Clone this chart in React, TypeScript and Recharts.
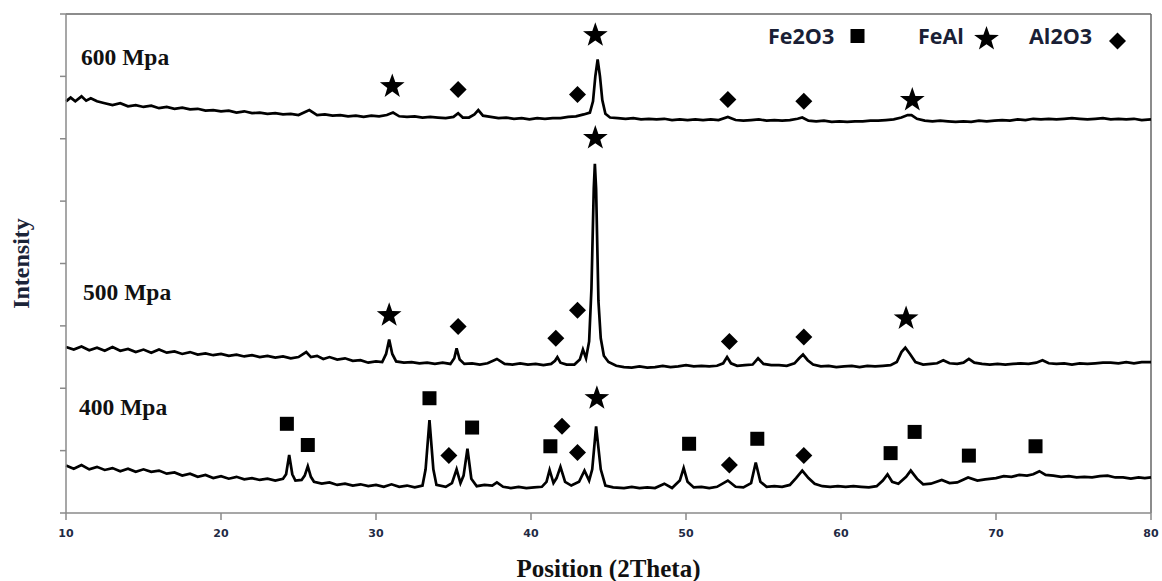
import React from 'react';
import { ComposedChart, Line, Scatter, XAxis, YAxis, ReferenceLine } from 'recharts';

type Pt = [number, number];

const xTicks = [10, 20, 30, 40, 50, 60, 70, 80];
const yTicks = [0, 1, 2, 3, 4, 5, 6, 7, 8];

// 2theta vs intensity (arb. units, stacked)
const pattern400: Pt[] = [
  [10, 0.76], [10.5, 0.71], [11, 0.77], [11.5, 0.7], [12, 0.74], [12.5, 0.69], [13, 0.72], [13.5, 0.67],
  [14, 0.71], [14.5, 0.66], [15, 0.7], [15.5, 0.66], [16, 0.68], [16.5, 0.63], [17, 0.65], [17.5, 0.6],
  [18, 0.63], [18.5, 0.58], [19, 0.61], [19.5, 0.56], [20, 0.59], [20.5, 0.55], [21, 0.58], [21.5, 0.54],
  [22, 0.56], [22.5, 0.53], [23, 0.55], [23.5, 0.52], [24, 0.55], [24.2, 0.62], [24.4, 0.93], [24.6, 0.62],
  [24.8, 0.52], [25.2, 0.53], [25.4, 0.6], [25.6, 0.75], [25.8, 0.58], [26, 0.5], [26.5, 0.47], [27, 0.49],
  [27.5, 0.45], [28, 0.47], [28.5, 0.44], [29, 0.46], [29.5, 0.43], [30, 0.45], [30.5, 0.42], [31, 0.46],
  [31.5, 0.42], [32, 0.44], [32.5, 0.41], [33, 0.44], [33.2, 0.7], [33.45, 1.49], [33.7, 0.7], [33.9, 0.45],
  [34.5, 0.42], [34.9, 0.48], [35.2, 0.7], [35.45, 0.48], [35.65, 0.6], [35.9, 1.03], [36.15, 0.55], [36.5, 0.43],
  [37, 0.45], [37.5, 0.44], [37.8, 0.49], [38.2, 0.42], [38.7, 0.4], [39.2, 0.42], [39.7, 0.4], [40.2, 0.41],
  [40.7, 0.42], [41, 0.5], [41.2, 0.69], [41.45, 0.48], [41.65, 0.56], [41.9, 0.74], [42.2, 0.5], [42.6, 0.44],
  [43.1, 0.5], [43.45, 0.68], [43.75, 0.52], [43.95, 0.7], [44.2, 1.39], [44.5, 0.7], [44.8, 0.44], [45.3, 0.41],
  [46, 0.4], [46.5, 0.42], [47, 0.4], [47.5, 0.41], [48, 0.4], [48.6, 0.47], [49.1, 0.4], [49.6, 0.52],
  [49.85, 0.72], [50.1, 0.5], [50.5, 0.41], [51, 0.42], [51.5, 0.4], [52, 0.42], [52.7, 0.52], [53.2, 0.42],
  [53.7, 0.41], [54.2, 0.48], [54.5, 0.81], [54.8, 0.5], [55.2, 0.42], [55.7, 0.43], [56.2, 0.42], [56.7, 0.45],
  [57.1, 0.56], [57.5, 0.68], [57.9, 0.56], [58.3, 0.47], [58.8, 0.43], [59.3, 0.42], [59.8, 0.43], [60.3, 0.42],
  [60.8, 0.43], [61.3, 0.42], [61.8, 0.41], [62.3, 0.43], [62.7, 0.52], [63, 0.62], [63.3, 0.5], [63.7, 0.47],
  [64.2, 0.58], [64.5, 0.68], [64.9, 0.55], [65.3, 0.46], [65.8, 0.47], [66.5, 0.53], [67, 0.48], [67.5, 0.49],
  [68.2, 0.57], [68.8, 0.52], [69.3, 0.54], [70, 0.56], [70.5, 0.59], [71, 0.58], [71.5, 0.61], [72, 0.6],
  [72.4, 0.62], [72.8, 0.67], [73.2, 0.61], [73.7, 0.6], [74.2, 0.58], [74.7, 0.59], [75.2, 0.57], [75.7, 0.58],
  [76.2, 0.57], [76.7, 0.59], [77.2, 0.6], [77.7, 0.57], [78.2, 0.57], [78.7, 0.55], [79.2, 0.57], [79.6, 0.56],
  [80, 0.57],
];

const pattern500: Pt[] = [
  [10, 2.66], [10.5, 2.62], [11, 2.67], [11.5, 2.61], [12, 2.65], [12.5, 2.6], [13, 2.66], [13.5, 2.6],
  [14, 2.63], [14.5, 2.58], [15, 2.62], [15.5, 2.57], [16, 2.62], [16.5, 2.57], [17, 2.59], [17.5, 2.55],
  [18, 2.58], [18.5, 2.54], [19, 2.56], [19.5, 2.53], [20, 2.55], [20.5, 2.52], [21, 2.54], [21.5, 2.51],
  [22, 2.53], [22.5, 2.5], [23, 2.52], [23.5, 2.49], [24, 2.51], [24.5, 2.48], [25, 2.5], [25.5, 2.58],
  [25.8, 2.5], [26.2, 2.52], [26.6, 2.47], [27, 2.5], [27.5, 2.46], [28, 2.48], [28.5, 2.44], [29, 2.45],
  [29.5, 2.41], [30, 2.43], [30.4, 2.42], [30.65, 2.55], [30.85, 2.78], [31.05, 2.55], [31.3, 2.43], [31.8, 2.41],
  [32.3, 2.42], [32.8, 2.4], [33.3, 2.41], [33.8, 2.39], [34.3, 2.41], [34.8, 2.39], [35.05, 2.48], [35.2, 2.64],
  [35.4, 2.46], [35.7, 2.39], [36.2, 2.4], [36.7, 2.38], [37.2, 2.4], [37.8, 2.47], [38.3, 2.39], [38.8, 2.38],
  [39.3, 2.4], [39.8, 2.38], [40.3, 2.39], [40.8, 2.37], [41.3, 2.39], [41.55, 2.44], [41.7, 2.5], [41.9, 2.41],
  [42.3, 2.38], [42.8, 2.38], [43.15, 2.46], [43.35, 2.62], [43.55, 2.48], [43.75, 2.75], [43.9, 3.6], [44.05, 5.2],
  [44.12, 5.6], [44.2, 5.2], [44.35, 3.4], [44.5, 2.8], [44.7, 2.52], [45, 2.42], [45.5, 2.36], [46, 2.34],
  [46.5, 2.33], [47, 2.35], [47.5, 2.33], [48, 2.34], [48.5, 2.36], [49, 2.34], [49.5, 2.35], [50, 2.37],
  [50.5, 2.35], [51, 2.36], [51.5, 2.35], [52, 2.36], [52.4, 2.4], [52.65, 2.5], [52.9, 2.4], [53.3, 2.36],
  [53.8, 2.37], [54.3, 2.38], [54.65, 2.48], [55, 2.39], [55.5, 2.37], [56, 2.37], [56.5, 2.36], [57, 2.4],
  [57.3, 2.48], [57.55, 2.54], [57.85, 2.45], [58.2, 2.38], [58.7, 2.35], [59.2, 2.36], [59.7, 2.34], [60.2, 2.35],
  [60.7, 2.36], [61.2, 2.34], [61.7, 2.36], [62.2, 2.35], [62.7, 2.36], [63.2, 2.37], [63.6, 2.42], [63.9, 2.58],
  [64.15, 2.65], [64.45, 2.55], [64.8, 2.42], [65.3, 2.38], [65.8, 2.39], [66.2, 2.4], [66.6, 2.45], [67, 2.4],
  [67.5, 2.39], [67.9, 2.41], [68.25, 2.47], [68.6, 2.41], [69.1, 2.39], [69.6, 2.38], [70.1, 2.39], [70.6, 2.38],
  [71.1, 2.39], [71.6, 2.4], [72.1, 2.39], [72.6, 2.41], [73, 2.45], [73.4, 2.4], [73.9, 2.39], [74.4, 2.4],
  [74.9, 2.38], [75.4, 2.4], [75.9, 2.39], [76.4, 2.4], [76.9, 2.41], [77.4, 2.41], [77.9, 2.4], [78.4, 2.42],
  [78.9, 2.4], [79.4, 2.42], [80, 2.42],
];

const pattern600: Pt[] = [
  [10, 6.6], [10.3, 6.66], [10.6, 6.6], [11, 6.68], [11.3, 6.61], [11.6, 6.65], [12, 6.6], [12.5, 6.57],
  [13, 6.54], [13.5, 6.57], [14, 6.52], [14.5, 6.54], [15, 6.51], [15.5, 6.53], [16, 6.49], [16.5, 6.51],
  [17, 6.48], [17.5, 6.5], [18, 6.47], [18.5, 6.48], [19, 6.45], [19.5, 6.46], [20, 6.44], [20.5, 6.45],
  [21, 6.42], [21.5, 6.44], [22, 6.41], [22.5, 6.42], [23, 6.4], [23.5, 6.41], [24, 6.39], [24.5, 6.4],
  [25, 6.38], [25.7, 6.46], [26.2, 6.38], [26.7, 6.39], [27.2, 6.37], [27.7, 6.38], [28.2, 6.36], [28.7, 6.37],
  [29.2, 6.35], [29.7, 6.37], [30.2, 6.36], [30.7, 6.38], [31.1, 6.42], [31.5, 6.36], [32, 6.35], [32.5, 6.36],
  [33, 6.34], [33.5, 6.35], [34, 6.34], [34.5, 6.33], [35, 6.35], [35.3, 6.41], [35.6, 6.34], [36, 6.34],
  [36.35, 6.39], [36.6, 6.46], [36.9, 6.37], [37.4, 6.35], [37.9, 6.33], [38.4, 6.34], [38.9, 6.32], [39.4, 6.33],
  [39.9, 6.31], [40.4, 6.33], [40.9, 6.32], [41.4, 6.33], [41.9, 6.33], [42.4, 6.35], [42.9, 6.36], [43.4, 6.39],
  [43.8, 6.42], [44, 6.6], [44.15, 7.0], [44.3, 7.27], [44.45, 7.0], [44.6, 6.62], [44.8, 6.4], [45.1, 6.34],
  [45.6, 6.33], [46.1, 6.32], [46.6, 6.33], [47.1, 6.31], [47.6, 6.32], [48.1, 6.31], [48.6, 6.32], [49.1, 6.3],
  [49.6, 6.31], [50.1, 6.3], [50.6, 6.31], [51.1, 6.3], [51.6, 6.31], [52.1, 6.3], [52.7, 6.35], [53.2, 6.3],
  [53.7, 6.29], [54.2, 6.3], [54.7, 6.31], [55.2, 6.29], [55.7, 6.3], [56.2, 6.29], [56.7, 6.3], [57.2, 6.32],
  [57.5, 6.34], [57.9, 6.29], [58.4, 6.28], [58.9, 6.29], [59.4, 6.27], [59.9, 6.28], [60.4, 6.27], [60.9, 6.28],
  [61.4, 6.28], [61.9, 6.29], [62.4, 6.29], [62.9, 6.3], [63.4, 6.31], [63.9, 6.34], [64.3, 6.38], [64.55, 6.38],
  [64.9, 6.32], [65.4, 6.29], [65.9, 6.28], [66.4, 6.29], [66.9, 6.28], [67.4, 6.27], [67.9, 6.28], [68.4, 6.27],
  [68.9, 6.29], [69.4, 6.28], [69.9, 6.29], [70.4, 6.3], [70.9, 6.29], [71.4, 6.31], [71.9, 6.3], [72.4, 6.32],
  [72.9, 6.31], [73.4, 6.32], [73.9, 6.31], [74.4, 6.32], [74.9, 6.33], [75.4, 6.32], [75.9, 6.31], [76.4, 6.32],
  [76.9, 6.33], [77.4, 6.31], [77.9, 6.32], [78.4, 6.31], [78.9, 6.32], [79.4, 6.3], [80, 6.31],
];

// phase markers placed above the peaks
const fe2o3Marks: Pt[] = [
  [24.25, 1.43], [25.6, 1.09], [33.45, 1.84], [36.2, 1.37], [41.25, 1.07], [50.2, 1.11],
  [54.6, 1.19], [63.2, 0.96], [64.75, 1.3], [68.25, 0.92], [72.55, 1.07],
];
const feAlMarks: Pt[] = [
  [31.05, 6.84], [44.15, 7.66], [64.6, 6.62],
  [30.85, 3.17], [44.15, 6.01], [64.2, 3.12],
  [44.25, 1.84],
];
const al2o3Marks: Pt[] = [
  [35.3, 6.79], [43.0, 6.71], [52.7, 6.63], [57.6, 6.6],
  [35.3, 2.99], [41.6, 2.8], [43.0, 3.25], [52.8, 2.75], [57.6, 2.82],
  [34.7, 0.92], [42.0, 1.39], [43.0, 0.97], [52.8, 0.77], [57.6, 0.92],
];

const sampleLabels = ['600 Mpa', '500 Mpa', '400 Mpa'];
const phaseNames = ['Fe2O3', 'FeAl', 'Al2O3'];

const toRows = (pts: Pt[]) => pts.map(([x, y]) => ({ x, y }));

const starPath = (cx: number, cy: number, R: number) => {
  let d = '';
  for (let i = 0; i < 10; i++) {
    const r = i % 2 === 0 ? R : R * 0.4;
    const a = ((-90 + i * 36) * Math.PI) / 180;
    d += (i ? 'L' : 'M') + (cx + r * Math.cos(a)).toFixed(1) + ',' + (cy + r * Math.sin(a)).toFixed(1);
  }
  return d + 'Z';
};

const SquareMark = (p: any) => <rect x={p.cx - 7} y={p.cy - 7} width={14} height={14} fill="#000" />;
const StarMark = (p: any) => <path d={starPath(p.cx, p.cy, 13)} fill="#000" />;
const DiamondMark = (p: any) => (
  <path d={`M${p.cx},${p.cy - 8.5}L${p.cx + 8.5},${p.cy}L${p.cx},${p.cy + 8.5}L${p.cx - 8.5},${p.cy}Z`} fill="#000" />
);

const labelFont = { fontFamily: '"Liberation Serif", "Times New Roman", serif', fontWeight: 700 };
const legendFont = { fontFamily: '"Open Sans", sans-serif', fontWeight: 700, fontSize: 21.5 };

export default function App() {
  return (
    <div style={{ position: 'absolute', left: 0, top: 0, width: 1162, height: 581, background: '#fff' }}>
      <ComposedChart width={1162} height={581} margin={{ top: 14, right: 11, left: 0, bottom: 0 }}>
        <XAxis
          dataKey="x"
          type="number"
          domain={[10, 80]}
          ticks={xTicks}
          height={68}
          stroke="#8a8a8a"
          strokeWidth={1.5}
          tickSize={7}
          tickMargin={9}
          tick={{ fontSize: 11, fontWeight: 700, fill: '#1f2a44', fontFamily: '"DejaVu Sans", sans-serif' }}
          label={{
            value: 'Position (2Theta)',
            position: 'insideBottom',
            offset: 4,
            style: { ...labelFont, fontSize: 25, fill: '#111' },
          }}
        />
        <YAxis
          dataKey="y"
          type="number"
          domain={[0, 8]}
          ticks={yTicks}
          width={66}
          stroke="#8a8a8a"
          strokeWidth={1.5}
          tickSize={6}
          tickFormatter={() => ''}
          label={{
            value: 'Intensity',
            angle: -90,
            position: 'insideLeft',
            offset: 20,
            style: { ...labelFont, fontSize: 24, fill: '#1b2438', textAnchor: 'middle' },
          }}
        />
        <ReferenceLine y={8} stroke="#666" strokeWidth={1.5} />
        <ReferenceLine x={80} stroke="#666" strokeWidth={1.5} />
        <Line data={toRows(pattern400)} dataKey="y" type="linear" stroke="#000" strokeWidth={2.7} dot={false} isAnimationActive={false} />
        <Line data={toRows(pattern500)} dataKey="y" type="linear" stroke="#000" strokeWidth={2.7} dot={false} isAnimationActive={false} />
        <Line data={toRows(pattern600)} dataKey="y" type="linear" stroke="#000" strokeWidth={2.7} dot={false} isAnimationActive={false} />
        <Scatter data={toRows(fe2o3Marks)} dataKey="y" shape={SquareMark} isAnimationActive={false} />
        <Scatter data={toRows(feAlMarks)} dataKey="y" shape={StarMark} isAnimationActive={false} />
        <Scatter data={toRows(al2o3Marks)} dataKey="y" shape={DiamondMark} isAnimationActive={false} />
      </ComposedChart>

      <svg width={1162} height={581} style={{ position: 'absolute', left: 0, top: 0, pointerEvents: 'none' }}>
        <text x={81} y={65} fontSize={23.5} fill="#111" style={labelFont}>{sampleLabels[0]}</text>
        <text x={83} y={300} fontSize={23.5} fill="#111" style={labelFont}>{sampleLabels[1]}</text>
        <text x={79} y={415} fontSize={23.5} fill="#111" style={labelFont}>{sampleLabels[2]}</text>

        <text x={768} y={44} fill="#1a1f36" style={legendFont}>{phaseNames[0]}</text>
        <SquareMark cx={857.5} cy={36} />
        <text x={918} y={44} fill="#1a1f36" style={legendFont}>{phaseNames[1]}</text>
        <StarMark cx={986.5} cy={39} />
        <text x={1029} y={44} fill="#1a1f36" style={legendFont}>{phaseNames[2]}</text>
        <DiamondMark cx={1117.5} cy={41} />
      </svg>
    </div>
  );
}
